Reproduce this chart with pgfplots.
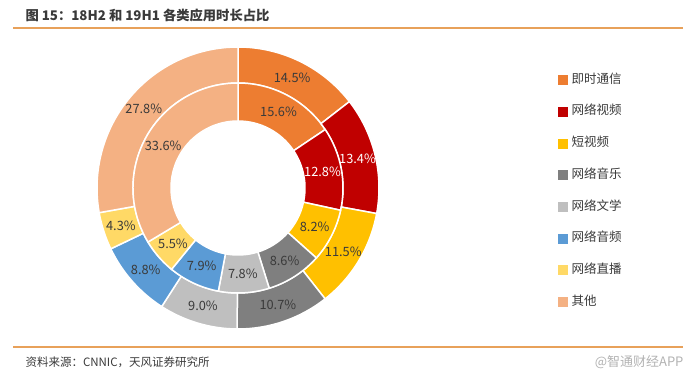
\documentclass[border=0pt]{standalone}
\usepackage{pgfplots}
\pgfplotsset{compat=1.18}
\usepackage{pgfplotstable}
\usepackage{fontspec}
\setmainfont{Noto Sans CJK SC}

\definecolor{c0}{HTML}{ED7D31}
\definecolor{c1}{HTML}{C00000}
\definecolor{c2}{HTML}{FFC000}
\definecolor{c3}{HTML}{7F7F7F}
\definecolor{c4}{HTML}{BFBFBF}
\definecolor{c5}{HTML}{5B9BD5}
\definecolor{c6}{HTML}{FFD966}
\definecolor{c7}{HTML}{F4B183}
\definecolor{txt}{HTML}{3A3A3A}
\definecolor{lineor}{HTML}{E8A15A}
\colorlet{l0}{txt}\colorlet{l1}{white}\colorlet{l2}{txt}\colorlet{l3}{txt}
\colorlet{l4}{txt}\colorlet{l5}{txt}\colorlet{l6}{txt}\colorlet{l7}{txt}

\pgfplotstableread{
idx outer inner
0 14.5 15.6
1 13.4 12.8
2 11.5 8.2
3 10.7 8.6
4 9.0 7.8
5 8.8 7.9
6 4.3 5.5
7 27.8 33.6
}\data

\tikzset{lab/.style={font=\fontsize{12.8}{14}\selectfont, inner sep=0pt}}

\newcommand\annseg[5]{% idx, value, cum, r, R
 \pgfmathsetmacro\aA{90-3.6*#3}%
 \pgfmathsetmacro\aB{90-3.6*(#3+#2)}%
 \pgfmathsetmacro\aM{(\aA+\aB)/2}%
 \pgfmathsetmacro\xA{238+#5*cos(\aA)}%
 \pgfmathsetmacro\yA{193+#5*sin(\aA)}%
 \pgfmathsetmacro\xB{238+#4*cos(\aB)}%
 \pgfmathsetmacro\yB{193+#4*sin(\aB)}%
 \pgfmathsetmacro\xL{238+(#4+#5)/2*cos(\aM)}%
 \pgfmathsetmacro\yL{193+(#4+#5)/2*sin(\aM)}%
 \edef\cmd{\noexpand\fill[c#1,draw=white,line width=1.5pt] (axis cs:\xA,\yA) arc[start angle=\aA,end angle=\aB,radius=#5pt] -- (axis cs:\xB,\yB) arc[start angle=\aB,end angle=\aA,radius=#4pt] -- cycle;
 \noexpand\node[lab,text=l#1] at (axis cs:\xL,\yL) {#2\noexpand\%};}%
 \cmd
}

\begin{document}
\begin{tikzpicture}
\begin{axis}[
  width=696pt, height=381pt, scale only axis,
  xmin=0, xmax=696, ymin=0, ymax=381,
  hide axis, clip=false,
  legend cell align=left,
  legend style={at={(axis cs:558,307)}, anchor=north west, draw=none, fill=none,
    font=\fontsize{12.5}{14}\selectfont, text=txt, row sep=20.2pt, inner sep=0pt,
    nodes={inner sep=0pt, text height=9pt, text depth=2.5pt},
    /tikz/every odd column/.style={column sep=4pt}},
]
\path (axis cs:0,0) (axis cs:696,381);
\addlegendimage{legend image code/.code={\fill[c0] (0pt,-4.5pt) rectangle (9pt,4.5pt);}}
\addlegendentry{即时通信}
\addlegendimage{legend image code/.code={\fill[c1] (0pt,-4.5pt) rectangle (9pt,4.5pt);}}
\addlegendentry{网络视频}
\addlegendimage{legend image code/.code={\fill[c2] (0pt,-4.5pt) rectangle (9pt,4.5pt);}}
\addlegendentry{短视频}
\addlegendimage{legend image code/.code={\fill[c3] (0pt,-4.5pt) rectangle (9pt,4.5pt);}}
\addlegendentry{网络音乐}
\addlegendimage{legend image code/.code={\fill[c4] (0pt,-4.5pt) rectangle (9pt,4.5pt);}}
\addlegendentry{网络文学}
\addlegendimage{legend image code/.code={\fill[c5] (0pt,-4.5pt) rectangle (9pt,4.5pt);}}
\addlegendentry{网络音频}
\addlegendimage{legend image code/.code={\fill[c6] (0pt,-4.5pt) rectangle (9pt,4.5pt);}}
\addlegendentry{网络直播}
\addlegendimage{legend image code/.code={\fill[c7] (0pt,-4.5pt) rectangle (9pt,4.5pt);}}
\addlegendentry{其他}

\def\cumO{0}\def\cumI{0}
\pgfplotsforeachungrouped \i in {0,...,7}{%
  \pgfplotstablegetelem{\i}{outer}\of\data \edef\myv{\pgfplotsretval}%
  \annseg{\i}{\myv}{\cumO}{105}{141}%
  \pgfmathsetmacro\cumO{\cumO+\myv}%
  \pgfplotstablegetelem{\i}{inner}\of\data \edef\myw{\pgfplotsretval}%
  \annseg{\i}{\myw}{\cumI}{67}{105}%
  \pgfmathsetmacro\cumI{\cumI+\myw}%
}

\node[anchor=west, font=\bfseries\fontsize{13.3}{15}\selectfont, text=txt] at (axis cs:22,366) {图 15：18H2 和 19H1 各类应用时长占比};
\draw[lineor, line width=1.2pt] (axis cs:13,353) -- (axis cs:683,353);
\draw[lineor, line width=1.2pt] (axis cs:13,34) -- (axis cs:683,34);
\node[anchor=west, font=\fontsize{11.5}{13}\selectfont, text=txt] at (axis cs:22,19) {资料来源：CNNIC，天风证券研究所};
\node[anchor=east, font=\fontsize{13}{15}\selectfont, text=black!30] at (axis cs:687,19) {@智通财经APP};
\end{axis}
\end{tikzpicture}
\end{document}
